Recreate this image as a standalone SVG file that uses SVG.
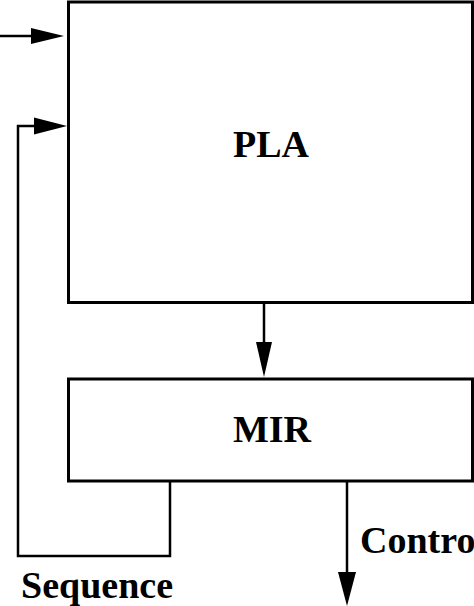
<svg xmlns="http://www.w3.org/2000/svg" width="474" height="606" viewBox="0 0 474 606">
<style>
.box{fill:#fff;stroke:#000;stroke-width:3}
.ln{fill:none;stroke:#000;stroke-width:2.5}
.hd{fill:#000;stroke:none}
.lbl{font-family:"Liberation Serif","Times New Roman",serif;font-weight:bold;font-size:38px;fill:#000}
</style>
<rect width="474" height="606" fill="#fff"/>
<g id="PLA">
<rect class="box" x="68.5" y="2" width="404" height="300.5"/>
<text class="lbl" x="271" y="157" text-anchor="middle">PLA</text>
</g>
<g id="MIR">
<rect class="box" x="68.5" y="379" width="404" height="102"/>
<text class="lbl" x="272" y="442" text-anchor="middle">MIR</text>
</g>
<g id="connectors">
<line class="ln" x1="0" y1="36" x2="40" y2="36"/>
<polygon class="hd" points="31,28 64,36 31,44"/>
<polyline class="ln" points="170,481 170,556 18,556 18,126 40,126"/>
<polygon class="hd" points="34,117.5 67,126 34,134.5"/>
<line class="ln" x1="264" y1="302.5" x2="264" y2="350"/>
<polygon class="hd" points="256,342 264,377 272,342"/>
<line class="ln" x1="347" y1="481" x2="347" y2="580"/>
<polygon class="hd" points="338,572 347,606 356,572"/>
</g>
<g id="labels">
<text class="lbl" x="21" y="598">Sequence</text>
<text class="lbl" x="360" y="553">Control</text>
</g>
</svg>
